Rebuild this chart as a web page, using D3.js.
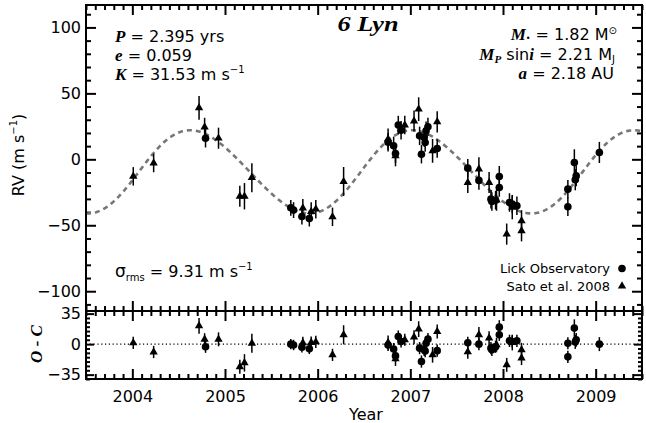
<!DOCTYPE html>
<html>
<head>
<meta charset="utf-8">
<script src="https://cdn.jsdelivr.net/npm/d3@7"></script>
<style>
  html, body { margin: 0; padding: 0; background: #fff; }
  svg { display: block; }
  .tk text { font-family: "DejaVu Sans", sans-serif; font-size: 16px; fill: #000; }
  .tk line { stroke: #000; stroke-width: 2; }
  .tk path { display: none; }
  .sans { font-family: "DejaVu Sans", sans-serif; }
  .serif { font-family: "Liberation Serif", serif; font-style: italic; font-weight: bold; }
</style>
</head>
<body>
<svg id="chart" width="646" height="423"></svg>
<script>
// Lick Observatory velocities (year, RV in m/s, error, O-C residual)
const lickYear = [2004.79, 2005.71, 2005.74, 2005.83, 2005.91, 2006.76, 2006.82, 2006.84, 2006.87, 2006.90,
                  2007.10, 2007.12, 2007.15, 2007.16, 2007.17, 2007.19, 2007.29, 2007.62, 2007.74, 2007.87,
                  2007.88, 2007.92, 2007.96, 2007.96, 2008.07, 2008.10, 2008.15, 2008.70, 2008.70, 2008.77,
                  2008.79, 2008.78, 2009.04];
const lickRV   = [16, -36.8, -38.5, -43.4, -44.9, 13, 10.2, 4.4, 26, 22,
                  17.8, 3.9, 16.5, 12.7, 21.6, 24.6, 8.2, -6.7, -16, -30.2,
                  -32, -31, -13, -21.4, -32.7, -34, -35.2, -22.6, -36, -2.4,
                  -12.5, -15.5, 5.2];
const lickErr  = [7, 6, 6, 6, 6, 7, 7, 7, 7, 7,
                  7, 7, 7, 7, 7, 7, 7, 7, 7, 7,
                  7, 7, 8, 7, 7, 7, 7, 7, 7, 10,
                  8, 8, 8];
const lickRes  = [-3, 0, -1, -3.5, -5.4, -1, -5.7, -13.5, 8.7, 3,
                  -4.6, -20, -6.5, -8, 1, 5.7, -7.5, 1.5, 0, -4.6,
                  -6.5, -3, 19.5, 10.7, 3.8, 3, 3.8, 1, -14.6, 18.4,
                  4.9, 2.5, 0];

// Sato et al. 2008 velocities
const satoYear = [2004.01, 2004.23, 2004.72, 2004.78, 2004.93, 2005.16, 2005.21, 2005.29, 2005.84, 2005.93,
                  2005.98, 2006.16, 2006.28, 2006.76, 2006.84, 2006.94, 2007.04, 2007.09, 2007.24, 2007.29,
                  2007.62, 2007.74, 2007.85, 2007.93, 2008.04, 2008.10, 2008.20, 2008.20];
const satoRV   = [-12.9, -2.8, 39, 24.5, 16, -28, -28, -13.9, -37, -39.6,
                  -37.8, -43.6, -16.8, 15.3, 2.7, 26, 29, 38, 6.4, 28.4,
                  -17.6, -7.4, -17.6, -31, -56.7, -36.5, -46.6, -54.2];
const satoErr  = [7, 7, 9, 7, 8, 8, 10, 11, 7, 7,
                  7, 7, 11, 8, 8, 7, 8, 9, 9, 8,
                  8, 9, 8, 8, 8, 9, 8, 8];
const satoRes  = [1.5, -9, 21, 5.5, 5.5, -26, -21.5, 1, 1.5, 1.8,
                  2.5, -12.3, 10.7, 1.8, -17, 5, 8, 17.2, -12.3, 14.5,
                  -8.8, 10.7, 6.9, -0.8, -23.8, 1.8, -6.5, -16];

// Orbital solution
const orbitP = 2.395, orbitE = 0.059, orbitK = 31.53;
const orbitTp = 2004.07, orbitOmega = 270, orbitGamma = -9.5;

// Axis ticks
const yearTicks = [2004, 2005, 2006, 2007, 2008, 2009];
const rvTicks = [-100, -50, 0, 50, 100];
const ocTicks = [-35, 0, 35];

const svg = d3.select("#chart");
const L = 86, R = 642, T = 5, MID = 311, B = 379;

const x = d3.scaleLinear().domain([2003.5, 2009.5]).range([L, R]);
const y = d3.scaleLinear().domain([-115, 117]).range([MID, T]);
const yr = d3.scaleLinear().domain([-40, 38]).range([B, MID]);

const fmt = d => (d < 0 ? "\u2212" + Math.abs(d) : "" + d);

function addAxis(axis, tx, ty) {
  svg.append("g").attr("class", "tk").attr("transform", `translate(${tx},${ty})`).call(axis);
}
const minorYears = d3.range(20035, 20096, 1).map(v => v / 10).filter(v => Math.abs(v - Math.round(v)) > 1e-6);
const minorRV = d3.range(-110, 111, 10).filter(v => v % 50 !== 0);
const minorOC = d3.range(-40, 39, 5).filter(v => v !== 0 && v !== 35 && v !== -35);

// main panel axes
addAxis(d3.axisLeft(y).tickValues(rvTicks).tickFormat(fmt).tickSizeInner(-10).tickSizeOuter(0).tickPadding(5), L, 0);
addAxis(d3.axisLeft(y).tickValues(minorRV).tickFormat("").tickSizeInner(-5).tickSizeOuter(0), L, 0);
addAxis(d3.axisRight(y).tickValues(rvTicks).tickFormat("").tickSizeInner(-10).tickSizeOuter(0), R, 0);
addAxis(d3.axisRight(y).tickValues(minorRV).tickFormat("").tickSizeInner(-5).tickSizeOuter(0), R, 0);
addAxis(d3.axisTop(x).tickValues(yearTicks).tickFormat("").tickSizeInner(-10).tickSizeOuter(0), 0, T);
addAxis(d3.axisTop(x).tickValues(minorYears).tickFormat("").tickSizeInner(-5).tickSizeOuter(0), 0, T);
addAxis(d3.axisBottom(x).tickValues(yearTicks).tickFormat("").tickSizeInner(-10).tickSizeOuter(0), 0, MID);
addAxis(d3.axisBottom(x).tickValues(minorYears).tickFormat("").tickSizeInner(-5).tickSizeOuter(0), 0, MID);

// residual panel axes
addAxis(d3.axisLeft(yr).tickValues(ocTicks).tickFormat(fmt).tickSizeInner(-8).tickSizeOuter(0).tickPadding(5), L, 0);
addAxis(d3.axisLeft(yr).tickValues(minorOC).tickFormat("").tickSizeInner(-4).tickSizeOuter(0), L, 0);
addAxis(d3.axisRight(yr).tickValues(ocTicks).tickFormat("").tickSizeInner(-8).tickSizeOuter(0), R, 0);
addAxis(d3.axisRight(yr).tickValues(minorOC).tickFormat("").tickSizeInner(-4).tickSizeOuter(0), R, 0);
addAxis(d3.axisTop(x).tickValues(yearTicks).tickFormat("").tickSizeInner(-10).tickSizeOuter(0), 0, MID);
addAxis(d3.axisTop(x).tickValues(minorYears).tickFormat("").tickSizeInner(-5).tickSizeOuter(0), 0, MID);
addAxis(d3.axisBottom(x).tickValues(yearTicks).tickFormat(d3.format("d")).tickSizeInner(-10).tickSizeOuter(0).tickPadding(12), 0, B);
addAxis(d3.axisBottom(x).tickValues(minorYears).tickFormat("").tickSizeInner(-5).tickSizeOuter(0), 0, B);

// Keplerian radial velocity curve
function keplerRV(t) {
  const M = 2 * Math.PI * (t - orbitTp) / orbitP;
  let E = M;
  for (let i = 0; i < 30; i++) E = E - (E - orbitE * Math.sin(E) - M) / (1 - orbitE * Math.cos(E));
  const nu = 2 * Math.atan2(Math.sqrt(1 + orbitE) * Math.sin(E / 2), Math.sqrt(1 - orbitE) * Math.cos(E / 2));
  const w = orbitOmega * Math.PI / 180;
  return orbitGamma + orbitK * (Math.cos(nu + w) + orbitE * Math.cos(w));
}
const curveT = d3.range(0, 601).map(i => 2003.5 + i * 0.01);

svg.append("clipPath").attr("id", "clipMain")
  .append("rect").attr("x", L).attr("y", T).attr("width", R - L).attr("height", MID - T);

svg.append("path")
  .attr("clip-path", "url(#clipMain)")
  .attr("d", d3.line().x(t => x(t)).y(t => y(keplerRV(t)))(curveT))
  .attr("fill", "none").attr("stroke", "#777").attr("stroke-width", 2.6)
  .attr("stroke-dasharray", "5,4");

// zero line of residual panel
svg.append("line")
  .attr("x1", L).attr("x2", R).attr("y1", yr(0)).attr("y2", yr(0))
  .attr("stroke", "#000").attr("stroke-width", 1.2).attr("stroke-dasharray", "1.2,2.6");

const lick = lickYear.map((t, i) => ({ t, v: lickRV[i], e: lickErr[i], r: lickRes[i] }));
const sato = satoYear.map((t, i) => ({ t, v: satoRV[i], e: satoErr[i], r: satoRes[i] }));

function drawSet(data, key, scaleY, shape) {
  const g = svg.append("g");
  g.selectAll("line").data(data).join("line")
    .attr("x1", d => x(d.t)).attr("x2", d => x(d.t))
    .attr("y1", d => scaleY(d[key] - d.e)).attr("y2", d => scaleY(d[key] + d.e))
    .attr("stroke", "#000").attr("stroke-width", 1.5);
  if (shape === "circle") {
    g.selectAll("circle").data(data).join("circle")
      .attr("cx", d => x(d.t)).attr("cy", d => scaleY(d[key])).attr("r", 3.8).attr("fill", "#000");
  } else {
    g.selectAll("path").data(data).join("path")
      .attr("d", d3.symbol(d3.symbolTriangle, 30))
      .attr("transform", d => `translate(${x(d.t)},${scaleY(d[key])})`).attr("fill", "#000");
  }
}
drawSet(sato, "v", y, "triangle");
drawSet(lick, "v", y, "circle");
drawSet(sato, "r", yr, "triangle");
drawSet(lick, "r", yr, "circle");

// frame
svg.append("rect").attr("x", L).attr("y", T).attr("width", R - L).attr("height", B - T)
  .attr("fill", "none").attr("stroke", "#000").attr("stroke-width", 2);
svg.append("line").attr("x1", L).attr("x2", R).attr("y1", MID).attr("y2", MID)
  .attr("stroke", "#000").attr("stroke-width", 2);

// titles and annotations
svg.append("text").attr("class", "serif").attr("x", 368).attr("y", 31)
  .attr("text-anchor", "middle").attr("font-size", 21)
  .attr("textLength", 61).attr("lengthAdjust", "spacingAndGlyphs").text("6 Lyn");

function paramLine(xp, yp, anchor) {
  return svg.append("text").attr("x", xp).attr("y", yp).attr("text-anchor", anchor || "start")
    .attr("font-size", 16).attr("class", "sans");
}
let t1 = paramLine(115, 42);
t1.append("tspan").attr("class", "serif").attr("font-size", 17).text("P");
t1.append("tspan").text(" = 2.395 yrs");
let t2 = paramLine(115, 61);
t2.append("tspan").attr("class", "serif").attr("font-size", 17).text("e");
t2.append("tspan").text(" = 0.059");
let t3 = paramLine(115, 80);
t3.append("tspan").attr("class", "serif").attr("font-size", 17).text("K");
t3.append("tspan").text(" = 31.53 m s");
t3.append("tspan").attr("font-size", 10).attr("dy", -7).text("\u22121");

let r1 = paramLine(617, 40, "end");
r1.append("tspan").attr("class", "serif").attr("font-size", 17).text("M");
r1.append("tspan").attr("font-size", 8).attr("dy", 1).text("\u2022");
r1.append("tspan").attr("dy", -1).text(" = 1.82 M");
r1.append("tspan").attr("font-size", 10).attr("dy", -6).text("\u2299");
let r2 = paramLine(615, 60, "end");
r2.append("tspan").attr("class", "serif").attr("font-size", 17).text("M");
r2.append("tspan").attr("class", "serif").attr("font-size", 11).attr("dy", 3).text("P");
r2.append("tspan").attr("dy", -3).text(" sin");
r2.append("tspan").attr("class", "serif").attr("font-size", 17).text("i");
r2.append("tspan").text(" = 2.21 M");
r2.append("tspan").attr("font-size", 10).attr("dy", 3).text("J");
let r3 = paramLine(614, 79, "end");
r3.append("tspan").attr("class", "serif").attr("font-size", 17).text("a");
r3.append("tspan").text(" = 2.18 AU");

let s1 = paramLine(115, 277);
s1.append("tspan").attr("font-size", 17).text("\u03c3");
s1.append("tspan").attr("font-size", 10).attr("dy", 4).text("rms");
s1.append("tspan").attr("dy", -4).text(" = 9.31 m s");
s1.append("tspan").attr("font-size", 10).attr("dy", -7).text("\u22121");

// legend
svg.append("text").attr("class", "sans").attr("x", 610).attr("y", 273).attr("font-size", 13)
  .attr("text-anchor", "end").text("Lick Observatory");
svg.append("circle").attr("cx", 622).attr("cy", 268.5).attr("r", 3.8).attr("fill", "#000");
svg.append("text").attr("class", "sans").attr("x", 610).attr("y", 291).attr("font-size", 13)
  .attr("text-anchor", "end").text("Sato et al. 2008");
svg.append("path").attr("d", d3.symbol(d3.symbolTriangle, 30))
  .attr("transform", "translate(622,286)").attr("fill", "#000");

// axis titles
const rvLab = svg.append("text").attr("class", "sans").attr("font-size", 16)
  .attr("transform", "translate(24,155) rotate(-90)").attr("text-anchor", "middle");
rvLab.append("tspan").text("RV (m s");
rvLab.append("tspan").attr("font-size", 10).attr("dy", -7).text("\u22121");
rvLab.append("tspan").attr("dy", 7).text(")");

svg.append("text").attr("class", "serif").attr("font-size", 17)
  .attr("transform", "translate(42,344) rotate(-90)").attr("text-anchor", "middle").text("O - C");

svg.append("text").attr("class", "sans").attr("font-size", 16)
  .attr("x", 366).attr("y", 420).attr("text-anchor", "middle").text("Year");
</script>
</body>
</html>
